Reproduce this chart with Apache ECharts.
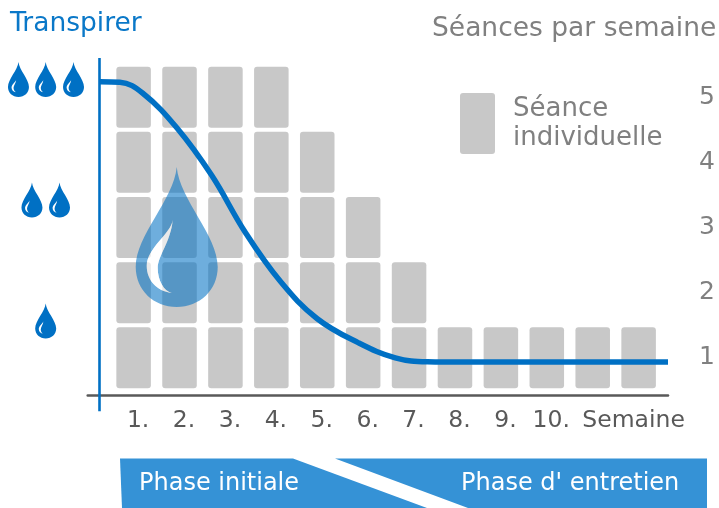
<!DOCTYPE html>
<html><head><meta charset="utf-8">
<style>html,body{margin:0;padding:0;background:#fff}#c{width:719px;height:508px}</style>
<script src="https://cdn.jsdelivr.net/npm/echarts@6/dist/echarts.min.js"></script>
</head><body><div id="c"></div>
<script>
const weekLabels = ['1.','2.','3.','4.','5.','6.','7.','8.','9.','10.','','{s|Semaine}'];
const sessionsPerWeek = [5,5,5,5,4,3,2,1,1,1,1,1];
const sessionLevels = [1,2,3,4,5];
const sweatCurve = [[0.268,5.238],[0.7,5.23],[1.2,5.06],[1.945,4.527],[2.7,3.8],[3.427,2.931],[4.2,2.17],[5.0,1.6],[5.9,1.23],[6.7,1.0],[7.4,0.94],[8.2,0.935],[12.64,0.935]];
const sweatAxis = [[0.257,0.18],[0.257,5.6]];
const smallDrops = [[-1.508,5.272],[-0.915,5.272],[-0.309,5.272],[-1.214,3.422],[-0.614,3.422],[-0.915,1.565]];
const bigDrop = [[1.939,2.856]];
const bigCrescent = [[1.569,2.556]];

const sessionCells = [];
sessionsPerWeek.forEach((n,i)=>{ for(const lvl of sessionLevels){ if(lvl<=n) sessionCells.push([i+1,lvl]); } });

const CRESCENT = 'M26 0C24 14 0 28 0 46C0 60 10 71 25 73C17 71 11 60 11 48C11 36 24 22 26 0Z';
const BODY = 'M41 0C44 33 82 68 82 100C82 123 64 140 41 140C18 140 0 123 0 100C0 68 38 33 41 0Z';
const BIG_DROP = 'path://'+BODY+'M37 53C35 67 11 81 11 99C11 113 21 124 36 126C28 124 22 113 22 101C22 89 35 75 37 53Z';
const SMALL_DROP = 'path://'+BODY+'M32.2 70C30.8 79.8 14 89.6 14 102.2C14 112 21 119.7 31.5 121.1C25.9 119.7 21.7 112 21.7 103.6C21.7 95.2 30.8 85.4 32.2 70Z';
const LEGEND_ICON = 'path://M3 0H32Q35 0 35 3V58Q35 61 32 61H3Q0 61 0 58V3Q0 0 3 0Z';
const FONT = '"DejaVu Sans"';

const chart = echarts.init(document.getElementById('c'), null, {renderer:'canvas'});
chart.setOption({
  animation:false,
  backgroundColor:'#fff',
  grid:{left:87.7,right:51,top:32,bottom:85},
  legend:{
    left:460,top:93,padding:0,
    itemWidth:35,itemHeight:61,
    data:[{name:'Séance\nindividuelle',icon:LEGEND_ICON}],
    textStyle:{fontFamily:FONT,fontSize:26,color:'#808080',lineHeight:29,padding:[0,0,0,13]}
  },
  xAxis:{
    type:'value',min:0,max:12.64,interval:1,offset:-27.3,
    axisLine:{show:true,onZero:false,lineStyle:{color:'#595959',width:2.5}},
    axisTick:{show:false},splitLine:{show:false},
    axisLabel:{
      show:true,margin:13,showMinLabel:false,showMaxLabel:false,
      fontFamily:FONT,fontSize:23.5,color:'#595959',padding:[0,0,0,9],
      rich:{s:{fontFamily:FONT,fontSize:23.5,color:'#595959',padding:[0,19,0,0]}},
      formatter:v=>weekLabels[v-1]||''
    }
  },
  yAxis:{
    type:'value',min:0,max:6,interval:1,position:'right',
    axisLine:{show:false},axisTick:{show:false},splitLine:{show:false},
    axisLabel:{
      margin:31,fontFamily:FONT,fontSize:25,color:'#808080',padding:[0,0,5,0],
      formatter:v=>sessionLevels.includes(v)?String(v):''
    }
  },
  series:[
    {
      name:'Séance\nindividuelle',type:'custom',data:sessionCells,
      encode:{x:0,y:1},clip:false,itemStyle:{color:'#c8c8c8'},z:1,
      renderItem:(params,api)=>{
        const tl=api.coord([api.value(0)-0.376,api.value(1)+0.468]);
        const br=api.coord([api.value(0)+0.376,api.value(1)-0.468]);
        return {type:'rect',shape:{x:tl[0],y:tl[1],width:br[0]-tl[0],height:br[1]-tl[1],r:3},
                style:{fill:'#c8c8c8'}};
      }
    },
    {name:'Transpirer axe',type:'line',data:sweatAxis,showSymbol:false,symbol:'none',z:4,clip:false,
     lineStyle:{color:'#0070c4',width:2.6,cap:'butt'}},
    {name:'Transpirer',type:'line',data:sweatCurve,smooth:0.4,symbol:'none',z:5,clip:false,
     lineStyle:{color:'#0070c4',width:5.5,cap:'butt'}},
    {name:'Gouttes',type:'scatter',data:smallDrops,symbol:SMALL_DROP,symbolSize:[21,35],clip:false,z:6,
     itemStyle:{color:'#0070c4',opacity:1}},
    {name:'Grande goutte',type:'scatter',data:bigDrop,symbol:BIG_DROP,symbolSize:[82,140],clip:false,z:3,
     itemStyle:{color:'#0070c4',opacity:0.57}},
    {name:'Reflet',type:'scatter',data:bigCrescent,symbol:'path://'+CRESCENT,symbolSize:[26,73],clip:false,z:3,
     itemStyle:{color:'#fff',opacity:0.6}}
  ],
  graphic:[
    {type:'polygon',shape:{points:[[120,458.5],[293,458.5],[427,508],[122,508]]},style:{fill:'#3592d6'},silent:true},
    {type:'polygon',shape:{points:[[335,458.5],[707,458.5],[707,508],[468,508]]},style:{fill:'#3592d6'},silent:true},
    {type:'text',left:139,top:472,style:{text:'Phase initiale',fill:'#fff',font:'24px '+FONT}},
    {type:'text',left:461,top:472,style:{text:"Phase d' entretien",fill:'#fff',font:'24px '+FONT}},
    {type:'text',left:10,top:11,style:{text:'Transpirer',fill:'#0a78c8',font:'26.5px '+FONT}},
    {type:'text',left:432,top:16,style:{text:'Séances par semaine',fill:'#808080',font:'26.5px '+FONT}}
  ]
});
</script></body></html>
